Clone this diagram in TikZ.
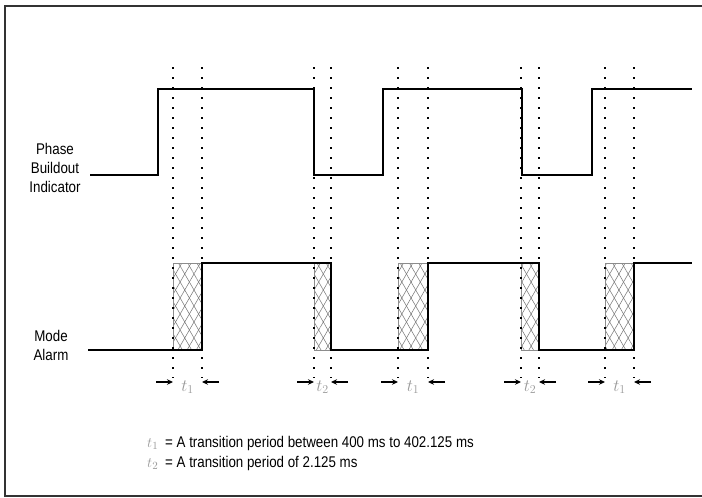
\documentclass[tikz,border=0pt]{standalone}
\usepackage{fontspec}
\setmainfont{Liberation Sans}[FakeStretch=0.86]
\usetikzlibrary{patterns.meta,arrows.meta}
\begin{document}
\begin{tikzpicture}[x=1pt,y=-1pt,
  sig/.style={line width=1.8pt, black, line join=miter},
  hatchA/.style={pattern={Lines[angle=60,distance=8pt,line width=0.5pt]}, pattern color=black!55},
  hatchB/.style={pattern={Lines[angle=-60,distance=8pt,line width=0.5pt]}, pattern color=black!55},
  boxedge/.style={draw=black!45, line width=0.7pt},
  dotline/.style={line width=1.9pt, dash pattern=on 1.9pt off 8.1pt},
  arr/.style={-{Stealth[length=6pt,width=5.5pt]}, line width=1.4pt},
  lbl/.style={font=\fontsize{15.5}{17}\selectfont, inner sep=0pt},
  tlab/.style={text=black!40, font=\fontsize{17}{19}\selectfont, inner sep=0pt}
]
\useasboundingbox (0,0) rectangle (702,498);
\fill[white] (0,0) rectangle (702,498);
% frame
\draw[line width=1.8pt, black!80] (710,6) -- (5,6) -- (5,496) -- (710,496);

% hatched transition boxes
\foreach \a/\b in {173/202, 314/331, 398/428, 521/539, 605/634}{
  \path[hatchA] (\a,263) rectangle (\b,350);
  \path[hatchB] (\a,263) rectangle (\b,350);
  \draw[boxedge] (\a,263) rectangle (\b,350);
}

% dotted guide lines
\foreach \x in {173,202,314,331,398,428,521,539,605,634}{
  \draw[dotline] (\x,67) -- (\x,378);
}

% Phase Buildout Indicator signal
\draw[sig] (90,175) -- (158,175) -- (158,89) -- (314,89) -- (314,175) -- (383,175)
  -- (383,89) -- (522,89) -- (522,175) -- (592,175) -- (592,89) -- (692,89);

% Mode Alarm signal
\draw[sig] (88,350) -- (202,350) -- (202,263) -- (331,263) -- (331,350) -- (428,350)
  -- (428,263) -- (539,263) -- (539,350) -- (634,350) -- (634,263) -- (692,263);

% labels
\node[lbl, anchor=base] (ph1) at (55,154) {Phase};
\node[lbl, anchor=base] (ph2) at (55,173) {Buildout};
\node[lbl, anchor=base] (ph3) at (55,192) {Indicator};
\node[lbl, anchor=base] (ma1) at (51,341) {Mode};
\node[lbl, anchor=base] (ma2) at (51,360) {Alarm};

% arrows and period labels
\foreach \a/\b/\n [count=\i] in {173/202/1, 314/331/2, 398/428/1, 521/539/2, 605/634/1}{
  \coordinate (l\i) at (\a-17,382);
  \coordinate (la\i) at (\a,382);
  \coordinate (r\i) at (\b+17,382);
  \coordinate (ra\i) at (\b,382);
  \draw[arr] (l\i) -- (la\i);
  \draw[arr] (r\i) -- (ra\i);
  \node[tlab] (tp\i) at ({(\a+\b)/2},387) {$t_{\n}$};
}

% legend
\node[tlab, anchor=base west, font=\fontsize{15}{17}\selectfont] (lg1t) at (147,447) {$t_1$};
\node[lbl, anchor=base west] (lg1) at (165,447) {= A transition period between 400 ms to 402.125 ms};
\node[tlab, anchor=base west, font=\fontsize{15}{17}\selectfont] (lg2t) at (147,467) {$t_2$};
\node[lbl, anchor=base west] (lg2) at (165,467) {= A transition period of 2.125 ms};
\end{tikzpicture}
\end{document}
